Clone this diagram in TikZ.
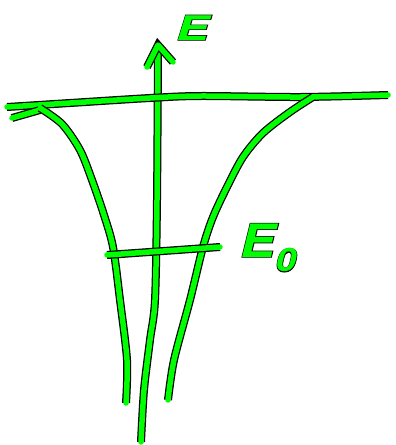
\documentclass[tikz,border=0pt]{standalone}
\usepackage{fontspec}
\usepackage{tikz}
\usetikzlibrary{calc}
\newfontfamily\handfont{texgyreheros-bolditalic.otf}
\newfontfamily\handoutline{texgyreheros-bolditalic.otf}[FakeBold=3]

\tikzset{
  pen/.style={green, line width=5.5pt, line cap=round, line join=round,
    preaction={draw=black, line width=8pt}},
  handlabel/.style={inner sep=0pt, text=green, transform shape},
  handshadow/.style={handlabel, text=black}
}

\begin{document}
\begin{tikzpicture}[x=1pt,y=-1pt]
      \useasboundingbox (0,0) rectangle (396,445);

      % 1. 能量軸與箭頭
      \coordinate (tip) at (158,45);
      \coordinate (wingL) at (147,67);
      \coordinate (wingR) at (173,62);
      \draw[pen] plot[smooth] coordinates {(141,442) (144,390) (150,340) (155,300) (157,200) (tip)};
      \draw[pen] (wingL) -- (tip) -- (wingR);

      % 2. 上方的水平線
      \coordinate (topL) at (7,107);
      \coordinate (topR) at (388,95);
      \draw[pen] plot[smooth] coordinates {(topL) (70,103) (150,98) (200,96) (300,97) (topR)};
      \draw[pen] (12,118) -- (40,110);

      % 3. 左右兩條曲線
      \draw[pen] plot[smooth] coordinates {(40,108) (62,124) (80,150) (92,180) (104,215) (113,247) (120,300) (127,360) (126,403)};
      \draw[pen] plot[smooth] coordinates {(313,97) (290,112) (263,133) (243,157) (227,187) (213,217) (203,247) (190,300) (174,360) (168,400)};

      % 4. E_0 的水平線
      \coordinate (midL) at (107,255);
      \coordinate (midR) at (220,247);
      \draw[pen] (midL) -- (midR);

      % 5. 標籤（黑色描邊在下，綠色在上）
      \node[handshadow, anchor=base west, xscale=1.45, font=\fontsize{34}{34}\selectfont\handoutline] (Eback) at (176,40) {E};
      \node[handlabel, anchor=base west, xscale=1.45, font=\fontsize{34}{34}\selectfont\handfont] (E) at (176,40) {E};
      \node[handshadow, anchor=base west, xscale=1.15, font=\fontsize{46}{46}\selectfont\handoutline] (E0back) at (240,257) {E\textsubscript{0}};
      \node[handlabel, anchor=base west, xscale=1.15, font=\fontsize{46}{46}\selectfont\handfont] (E0) at (240,257) {E\textsubscript{0}};
\end{tikzpicture}
\end{document}
